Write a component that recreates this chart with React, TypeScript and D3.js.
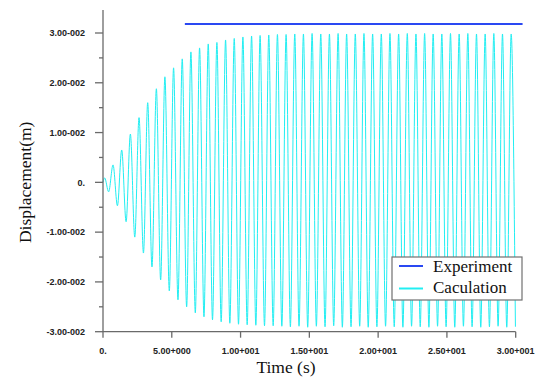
import React from "react";
import * as d3 from "d3";

// ---- data ----
const xTickValues = [0, 5, 10, 15, 20, 25, 30];
const xTickLabels = ["0.", "5.00+000", "1.00+001", "1.50+001", "2.00+001", "2.50+001", "3.00+001"];
const yTickValues = [0.03, 0.02, 0.01, 0, -0.01, -0.02, -0.03];
const yTickLabels = ["3.00-002", "2.00-002", "1.00-002", "0.", "-1.00-002", "-2.00-002", "-3.00-002"];
const yMinorTicks = [0.025, 0.015, 0.005, -0.005, -0.015, -0.025];

const experimentTimes = [5.95, 30.5];
const experimentValues = [0.0318, 0.0318];

// start of the calculated signal
const startTimes = [0, 0.12];
const startValues = [0, 0.0009];

// calculated signal: local maxima
const peakTimes = [
  0.73, 1.36, 1.99, 2.62, 3.25, 3.88, 4.5, 5.13, 5.76, 6.39,
  7.02, 7.65, 8.28, 8.91, 9.54, 10.17, 10.8, 11.42, 12.05, 12.68,
  13.31, 13.94, 14.57, 15.2, 15.83, 16.46, 17.09, 17.71, 18.34, 18.97,
  19.6, 20.23, 20.86, 21.49, 22.12, 22.75, 23.38, 24.0, 24.63, 25.26,
  25.89, 26.52, 27.15, 27.78, 28.41, 29.04, 29.67,
];
const peakValues = [
  0.0035, 0.0065, 0.0097, 0.013, 0.016, 0.0188, 0.0212, 0.023, 0.0248, 0.0262,
  0.027, 0.0278, 0.0281, 0.0286, 0.0289, 0.0292, 0.0294, 0.0295, 0.0296, 0.0297,
  0.0297, 0.0298, 0.0298, 0.0299, 0.0298, 0.0298, 0.0299, 0.0298, 0.0298, 0.0299,
  0.0298, 0.0298, 0.0299, 0.0298, 0.0299, 0.0298, 0.0299, 0.0298, 0.0298, 0.0299,
  0.0298, 0.0299, 0.0298, 0.0298, 0.0299, 0.0298, 0.0298,
];
// calculated signal: local minima
const troughTimes = [
  0.41, 1.05, 1.68, 2.31, 2.94, 3.56, 4.19, 4.82, 5.45, 6.08,
  6.71, 7.34, 7.96, 8.59, 9.22, 9.85, 10.48, 11.11, 11.74, 12.37,
  13.0, 13.62, 14.25, 14.88, 15.51, 16.14, 16.77, 17.4, 18.03, 18.66,
  19.28, 19.91, 20.54, 21.17, 21.8, 22.43, 23.06, 23.69, 24.32, 24.94,
  25.57, 26.2, 26.83, 27.46, 28.09, 28.72, 29.35, 29.98,
];
const troughValues = [
  -0.0019, -0.0047, -0.0079, -0.011, -0.0142, -0.017, -0.0196, -0.0218, -0.0236, -0.025,
  -0.0262, -0.027, -0.0276, -0.028, -0.0283, -0.0285, -0.0286, -0.0287, -0.0288, -0.0288,
  -0.0289, -0.029, -0.0289, -0.0291, -0.0289, -0.029, -0.0288, -0.0291, -0.029, -0.0289,
  -0.0291, -0.029, -0.0289, -0.029, -0.0291, -0.0289, -0.029, -0.0291, -0.0289, -0.029,
  -0.0291, -0.0289, -0.029, -0.0291, -0.029, -0.0289, -0.0291, -0.029,
];

const legendLabels = ["Experiment", "Caculation"];

export default function App() {
  const W = 536;
  const H = 384;
  const x = d3.scaleLinear().domain([0, 30]).range([103, 515.7]);
  const y = d3.scaleLinear().domain([-0.03, 0.03]).range([331.7, 33]);
  const yAxisTop = 0.0346;

  const calc: [number, number][] = [];
  startTimes.forEach((t, i) => calc.push([t, startValues[i]]));
  peakTimes.forEach((t, i) => calc.push([t, peakValues[i]]));
  troughTimes.forEach((t, i) => calc.push([t, troughValues[i]]));
  calc.sort((a, b) => a[0] - b[0]);

  const line = d3
    .line<[number, number]>()
    .x((d) => x(d[0]))
    .y((d) => y(d[1]))
    .curve(d3.curveMonotoneX);

  const exp: [number, number][] = experimentTimes.map((t, i) => [t, experimentValues[i]]);
  const expLine = d3
    .line<[number, number]>()
    .x((d) => x(d[0]))
    .y((d) => y(d[1]));

  const axisColor = "#6a6a6a";
  const cyan = "#22eef2";
  const blue = "#2a48f2";
  const tickFont = "'Liberation Sans', Arial, sans-serif";
  const serif = "'Liberation Serif', 'Times New Roman', serif";

  return (
    <svg
      width={W}
      height={H}
      style={{ position: "absolute", left: 0, top: 0, background: "#fff" }}
    >
      <rect x={0} y={0} width={W} height={H} fill="#fff" />
      {/* calculated signal */}
      <path d={line(calc) || ""} fill="none" stroke={cyan} strokeWidth={1} />
      {/* experiment */}
      <path d={expLine(exp) || ""} fill="none" stroke={blue} strokeWidth={2} />

      {/* y axis */}
      <line x1={x(0)} x2={x(0)} y1={y(yAxisTop)} y2={y(-0.03)} stroke={axisColor} strokeWidth={1.3} />
      {yTickValues.map((v, i) => (
        <g key={"yt" + i}>
          <line x1={x(0) - 8} x2={x(0)} y1={y(v)} y2={y(v)} stroke={axisColor} strokeWidth={1.3} />
          <text
            x={85}
            y={y(v)}
            dy="0.35em"
            textAnchor="end"
            fontFamily={tickFont}
            fontWeight="bold"
            fontSize={9}
            fill="#222"
          >
            {yTickLabels[i]}
          </text>
        </g>
      ))}
      {yMinorTicks.map((v, i) => (
        <line key={"ym" + i} x1={x(0) - 4} x2={x(0)} y1={y(v)} y2={y(v)} stroke={axisColor} strokeWidth={1.3} />
      ))}

      {/* x axis */}
      <line x1={x(0)} x2={x(30)} y1={y(-0.03)} y2={y(-0.03)} stroke={axisColor} strokeWidth={1.3} />
      {xTickValues.map((v, i) => (
        <g key={"xt" + i}>
          <line x1={x(v)} x2={x(v)} y1={y(-0.03)} y2={y(-0.03) + 6} stroke={axisColor} strokeWidth={1.3} />
          <text
            x={x(v)}
            y={354}
            textAnchor="middle"
            fontFamily={tickFont}
            fontWeight="bold"
            fontSize={9}
            fill="#222"
          >
            {xTickLabels[i]}
          </text>
        </g>
      ))}

      {/* axis titles */}
      <text
        transform={`translate(31, ${y(0)}) rotate(-90)`}
        textAnchor="middle"
        fontFamily={serif}
        fontSize={17.5}
        fill="#111"
      >
        Displacement(m)
      </text>
      <text x={286} y={373} textAnchor="middle" fontFamily={serif} fontSize={17.5} fill="#111">
        Time (s)
      </text>

      {/* legend */}
      <rect x={392} y={257} width={130} height={43} fill="#fff" stroke="#707070" strokeWidth={1.2} />
      <line x1={399} x2={423} y1={266} y2={266} stroke={blue} strokeWidth={2} />
      <line x1={399} x2={423} y1={288.5} y2={288.5} stroke={cyan} strokeWidth={2} />
      <text x={433} y={272} fontFamily={serif} fontSize={17} fill="#111">
        {legendLabels[0]}
      </text>
      <text x={433} y={293} fontFamily={serif} fontSize={17} fill="#111">
        {legendLabels[1]}
      </text>
    </svg>
  );
}
